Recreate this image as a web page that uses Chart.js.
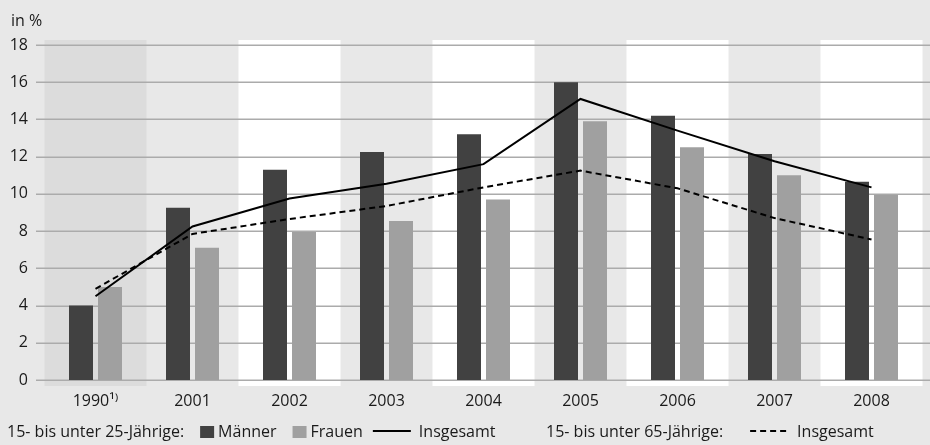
<!DOCTYPE html>
<html>
<head>
<meta charset="utf-8">
<script src="https://cdn.jsdelivr.net/npm/chart.js@4.4.0/dist/chart.umd.min.js"></script>
<style>
  html, body { margin: 0; padding: 0; background: #e8e8e8; }
  #wrap { width: 930px; height: 445px; position: relative; }
</style>
</head>
<body>
<div id="wrap"><canvas id="chart"></canvas></div>
<script>
// data
const years = ['1990\u00B9\u207E', '2001', '2002', '2003', '2004', '2005', '2006', '2007', '2008']
const maenner = [4.0, 9.25, 11.3, 12.25, 13.2, 16.0, 14.2, 12.15, 10.65]
const frauen = [5.0, 7.1, 7.95, 8.55, 9.7, 13.9, 12.5, 11.0, 9.95]
const insgesamt25 = [4.5, 8.25, 9.75, 10.55, 11.6, 15.1, 13.4, 11.75, 10.35]
const insgesamt65 = [4.9, 7.85, 8.65, 9.35, 10.35, 11.25, 10.3, 8.7, 7.55]
const yTicks = [0, 2, 4, 6, 8, 10, 12, 14, 16, 18]
const group25 = '15- bis unter 25-Jährige:'
const group65 = '15- bis unter 65-Jährige:'
const unitLabel = 'in %'

const FONT = '"Open Sans", sans-serif'

// alternating column backgrounds + horizontal grid lines
const backdrop = {
    id: 'backdrop',
    beforeDatasetsDraw(chart) {
        const { ctx, scales: { x, y } } = chart
        ctx.save()
        years.forEach((yr, i) => {
            let color = null
            if (i === 0) color = '#dcdcdc'
            else if (i % 2 === 0) color = '#ffffff'
            if (!color) return
            const cx = x.getPixelForValue(i)
            ctx.fillStyle = color
            ctx.fillRect(cx - 51, 40, 102, 346)
        })
        ctx.strokeStyle = '#ababab'
        ctx.lineWidth = 1.5
        yTicks.forEach(v => {
            const py = Math.round(y.getPixelForValue(v)) + 0.25
            ctx.beginPath()
            ctx.moveTo(36, py)
            ctx.lineTo(930, py)
            ctx.stroke()
        })
        ctx.restore()
    }
}

// unit label and the two-part legend
const legendText = {
    id: 'legendText',
    afterDraw(chart) {
        const { ctx } = chart
        const ds = chart.data.datasets
        ctx.save()
        ctx.fillStyle = '#1a1a1a'
        ctx.font = '16px ' + FONT
        ctx.textBaseline = 'alphabetic'
        ctx.fillText(unitLabel, 11, 26)

        const ly = 432
        ctx.textBaseline = 'middle'
        let px = 7
        ctx.fillText(group25, px, ly)
        px += ctx.measureText(group25).width + 16
        // Männer / Frauen boxes
        ;[ds[0], ds[1]].forEach(d => {
            ctx.fillStyle = d.backgroundColor
            ctx.fillRect(px, ly - 6, 14, 12)
            px += 18
            ctx.fillStyle = '#1a1a1a'
            ctx.fillText(d.label, px, ly)
            px += ctx.measureText(d.label).width + 16
        })
        px -= 6
        ctx.strokeStyle = ds[2].borderColor
        ctx.lineWidth = 2
        ctx.beginPath()
        ctx.moveTo(px, ly - 1)
        ctx.lineTo(px + 38, ly - 1)
        ctx.stroke()
        px += 46
        ctx.fillText(ds[2].label, px, ly)

        px = 546
        ctx.fillText(group65, px, ly)
        px += ctx.measureText(group65).width + 27
        ctx.strokeStyle = ds[3].borderColor
        ctx.setLineDash([6, 4])
        ctx.beginPath()
        ctx.moveTo(px, ly - 1)
        ctx.lineTo(px + 40, ly - 1)
        ctx.stroke()
        ctx.setLineDash([])
        px += 47
        ctx.fillText(ds[3].label, px, ly)
        ctx.restore()
    }
}

const ctx = document.getElementById('chart').getContext('2d')
const chart = new Chart(ctx, {
    data: {
        labels: years,
        datasets: [
            {
                type: 'bar',
                label: 'Männer',
                data: maenner,
                backgroundColor: '#414141',
                categoryPercentage: 58 / 97,
                barPercentage: 24 / 29,
                order: 2,
            },
            {
                type: 'bar',
                label: 'Frauen',
                data: frauen,
                backgroundColor: '#a0a0a0',
                categoryPercentage: 58 / 97,
                barPercentage: 24 / 29,
                order: 2,
            },
            {
                type: 'line',
                label: 'Insgesamt',
                data: insgesamt25,
                borderColor: '#000000',
                borderWidth: 2,
                pointRadius: 0,
                tension: 0,
                order: 1,
            },
            {
                type: 'line',
                label: 'Insgesamt',
                data: insgesamt65,
                borderColor: '#000000',
                borderWidth: 2,
                borderDash: [6, 4],
                pointRadius: 0,
                tension: 0,
                order: 0,
            },
        ]
    },
    options: {
        responsive: true,
        maintainAspectRatio: false,
        animation: false,
        layout: { padding: { left: 10, right: 10, top: 45, bottom: 0 } },
        plugins: {
            legend: { display: false },
            tooltip: { enabled: false },
        },
        scales: {
            x: {
                offset: true,
                grid: { display: false, drawTicks: false },
                border: { display: false },
                ticks: { color: '#1a1a1a', font: { family: FONT, size: 16 }, padding: 12, maxRotation: 0 },
                afterFit: s => { s.height = 65 },
            },
            y: {
                min: 0,
                max: 18,
                grid: { display: false, drawTicks: false },
                border: { display: false },
                ticks: { stepSize: 2, color: '#1a1a1a', font: { family: FONT, size: 16 }, padding: 19 },
                afterFit: s => { s.width = 37 },
            }
        }
    },
    plugins: [backdrop, legendText]
})
</script>
</body>
</html>
